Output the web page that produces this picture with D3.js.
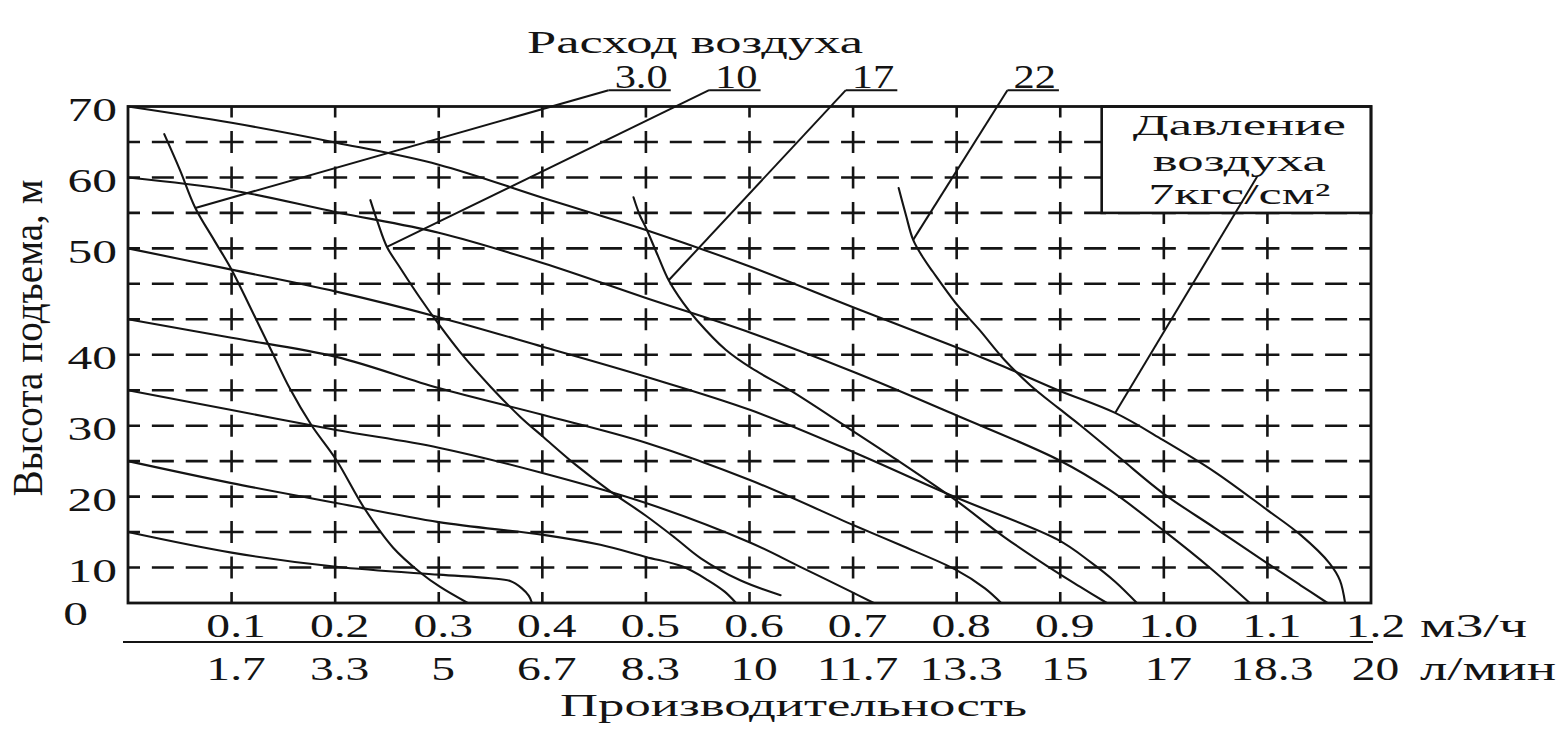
<!DOCTYPE html>
<html><head><meta charset="utf-8">
<script src="https://cdn.jsdelivr.net/npm/d3@7"></script>
<style>
html,body{margin:0;padding:0;background:#fff;}
svg{display:block;}
text{font-family:"Liberation Serif","Times New Roman",serif;fill:#141414;}
</style>
</head><body>
<svg id="chart" width="1568" height="738"></svg>
<script>
// ---------- DATA ----------
// Производительность, м3/ч — tick values and labels (two unit rows)
const qTicks = [0.1,0.2,0.3,0.4,0.5,0.6,0.7,0.8,0.9,1.0,1.1,1.2];
const qLabelsM3h = ["0.1","0.2","0.3","0.4","0.5","0.6","0.7","0.8","0.9","1.0","1.1","1.2"];
const qLabelsLmin = ["1.7","3.3","5","6.7","8.3","10","11.7","13.3","15","17","18.3","20"];
// Высота подъема, м — label values as printed on the original axis
const hTickValues = [70,60,50,35,25,15,5];
const hTickLabels = ["70","60","50","40","30","20","10"];
const hZeroLabel = "0";

// constant air-pressure curves [Q m3/h, H m]
const pressure7 = [[0,70],[0.100,67.7],[0.201,64.9],[0.300,61.8],[0.401,57.1],[0.500,52.6],[0.601,47.4],[0.700,41.7],[0.799,36.1],[0.846,33.3],[0.898,30.0],[0.953,26.8],[0.999,23.0],[1.049,18.5],[1.100,13.1],[1.132,9.6],[1.160,5.6],[1.170,3.2],[1.175,0]];
const pressure6 = [[0,60],[0.100,58.2],[0.201,55.1],[0.300,52.2],[0.401,47.9],[0.500,43.0],[0.601,38.1],[0.700,32.6],[0.799,26.5],[0.898,20.2],[0.948,15.9],[0.999,10.3],[1.045,4.9],[1.083,0]];
const pressure5 = [[0,50],[0.100,47.0],[0.201,43.9],[0.300,40.3],[0.401,36.1],[0.500,31.9],[0.601,27.2],[0.700,21.3],[0.799,14.9],[0.898,8.9],[0.929,5.8],[0.953,3.0],[0.974,0]];
const pressure4 = [[0,40],[0.100,37.4],[0.201,34.7],[0.300,30.3],[0.401,26.5],[0.500,22.6],[0.601,17.3],[0.700,11.0],[0.745,8.2],[0.799,4.7],[0.827,2.1],[0.843,0]];
const pressure3 = [[0,30],[0.100,27.2],[0.201,24.4],[0.300,21.9],[0.401,18.3],[0.500,14.1],[0.601,8.5],[0.649,5.1],[0.698,1.6],[0.720,0]];
const pressure2 = [[0,20],[0.100,16.9],[0.201,14.1],[0.300,11.4],[0.401,9.6],[0.456,8.2],[0.500,6.5],[0.536,5.1],[0.560,3.2],[0.576,1.6],[0.587,0]];
const pressure1 = [[0,10],[0.100,7.1],[0.201,5.1],[0.300,4.0],[0.350,3.5],[0.369,3.1],[0.380,2.1],[0.387,1.0],[0.390,0]];

// constant air-consumption curves [Q m3/h, H m]
const air3  = [[0.035,66.1],[0.050,61.1],[0.065,55.7],[0.083,51.2],[0.100,47.0],[0.118,41.7],[0.138,35.7],[0.156,30.3],[0.177,25.1],[0.201,20.2],[0.228,13.4],[0.256,7.8],[0.283,4.2],[0.301,2.3],[0.328,0]];
const air10 = [[0.234,56.8],[0.241,53.7],[0.250,50.2],[0.263,47.2],[0.282,43.0],[0.301,39.1],[0.321,35.3],[0.350,30.5],[0.379,26.2],[0.401,23.4],[0.432,19.5],[0.466,15.7],[0.500,12.3],[0.528,9.2],[0.553,6.3],[0.591,3.2],[0.630,1.1]];
const air17 = [[0.488,57.2],[0.494,54.7],[0.500,52.9],[0.512,48.8],[0.522,45.5],[0.536,42.3],[0.549,39.9],[0.577,35.7],[0.602,33.1],[0.639,30.0],[0.694,24.8],[0.742,20.2],[0.799,14.5],[0.846,9.3],[0.898,4.2],[0.919,2.3],[0.945,0]];
const air22 = [[0.744,58.5],[0.751,54.7],[0.758,51.2],[0.768,48.6],[0.777,46.7],[0.799,42.3],[0.822,38.5],[0.846,34.3],[0.871,30.7],[0.898,27.5],[0.919,25.1],[0.958,20.4],[0.999,15.5],[1.049,10.6],[1.100,5.6],[1.132,2.5],[1.158,0]];

const pressureSeries = [pressure7,pressure6,pressure5,pressure4,pressure3,pressure2,pressure1];
const airSeries = [air3,air10,air17,air22];
const airLabels = ["3.0","10","17","22"];
const airLeaderPointIndex = [2,2,4,2];
const airLeaderTop = [[0.464,72.3],[0.561,72.3],[0.693,72.3],[0.849,72.3]];
const pressureLeaderPointIndex = 11;
const pressureLeaderTop = [1.090,60.1];
const pressureBox = {q0:0.94,q1:1.2,h0:55,h1:70};
const pressureBoxLines = ["Давление","воздуха","7кгс/см²"];

// ---------- CHART ----------
const svg = d3.select("#chart");
const ink = "#141414";
const x = d3.scaleLinear().domain([0,1.2]).range([128,1371]);
const y = d3.scaleLinear().domain([0,70]).range([603,106.5]);

// grid (dashed, drawn cell by cell so dashes cross at the intersections)
const grid = svg.append("g").attr("stroke",ink).attr("stroke-width",2.6).attr("fill","none");
const gridQ = d3.range(1,12).map(i=>i/10);
const gridH = d3.range(1,14).map(i=>i*5);
const cellsQ = d3.range(0,12).map(i=>[i/10,(i+1)/10]);
const cellsH = d3.range(0,14).map(i=>[i*5,(i+1)*5]);
gridH.forEach(h=>cellsQ.forEach(([a,b])=>{
  grid.append("line").attr("x1",x(a)).attr("x2",x(b)).attr("y1",y(h)).attr("y2",y(h))
    .attr("stroke-dasharray","22 11.86").attr("stroke-dashoffset",10);
}));
gridQ.forEach(q=>cellsH.forEach(([a,b])=>{
  grid.append("line").attr("x1",x(q)).attr("x2",x(q)).attr("y1",y(b)).attr("y2",y(a))
    .attr("stroke-dasharray","22 13.46").attr("stroke-dashoffset",11);
}));

// pressure box (covers grid)
svg.append("rect")
  .attr("x",x(pressureBox.q0)).attr("y",y(pressureBox.h1))
  .attr("width",x(pressureBox.q1)-x(pressureBox.q0)).attr("height",y(pressureBox.h0)-y(pressureBox.h1))
  .attr("fill","#fff").attr("stroke",ink).attr("stroke-width",2.6);
const boxCx = (x(pressureBox.q0)+x(pressureBox.q1))/2 + 3;
const boxLens = [213,173,182];
const boxBase = [y(pressureBox.h1)+28.5, y(pressureBox.h1)+64.5, y(pressureBox.h1)+97.5];
pressureBoxLines.forEach((t,i)=>{
  svg.append("text").attr("x",boxCx-boxLens[i]/2).attr("y",boxBase[i])
    .attr("font-size",30).attr("textLength",boxLens[i]).attr("lengthAdjust","spacingAndGlyphs")
    .text(t);
});

// frame
svg.append("rect").attr("x",x(0)).attr("y",y(70)).attr("width",x(1.2)-x(0)).attr("height",y(0)-y(70))
  .attr("fill","none").attr("stroke",ink).attr("stroke-width",2.8);

// curves
const line = d3.line().x(d=>x(d[0])).y(d=>y(d[1])).curve(d3.curveCatmullRom.alpha(0.5));
const curves = svg.append("g").attr("fill","none").attr("stroke",ink).attr("stroke-width",2.1)
  .attr("stroke-linejoin","round").attr("stroke-linecap","round");
pressureSeries.forEach(s=>curves.append("path").attr("d",line(s)));
airSeries.forEach(s=>curves.append("path").attr("d",line(s)));

// leaders + air consumption labels
const leaders = svg.append("g").attr("stroke",ink).attr("stroke-width",2).attr("fill","none");
airSeries.forEach((s,i)=>{
  const p = s[airLeaderPointIndex[i]];
  const t = airLeaderTop[i];
  leaders.append("line").attr("x1",x(p[0])).attr("y1",y(p[1])).attr("x2",x(t[0])).attr("y2",y(t[1]));
  const tx = svg.append("text").attr("font-size",34)
    .attr("transform",`translate(${x(t[0])+6},${y(t[1])-2}) scale(1.25,1)`).text(airLabels[i]);
  const w = tx.node().getBBox().width*1.25;
  leaders.append("line").attr("x1",x(t[0])).attr("y1",y(t[1])).attr("x2",x(t[0])+6+w+3).attr("y2",y(t[1]));
});
{
  const p = pressure7[pressureLeaderPointIndex];
  leaders.append("line").attr("x1",x(p[0])).attr("y1",y(p[1]))
    .attr("x2",x(pressureLeaderTop[0])).attr("y2",y(pressureLeaderTop[1]));
}

// title "Расход воздуха"
svg.append("text").attr("x",527).attr("y",53).attr("font-size",32)
  .attr("textLength",336).attr("lengthAdjust","spacingAndGlyphs").text("Расход воздуха");

// y axis labels
const yAxis = svg.append("g").attr("transform",`translate(${x(0)},0)`)
  .call(d3.axisLeft(y).tickValues(hTickValues).tickFormat((d,i)=>hTickLabels[i]).tickSize(0));
yAxis.select(".domain").remove();
yAxis.selectAll("text").attr("x",0).attr("dy",null).attr("font-size",33)
  .attr("font-family",null).attr("fill",ink).attr("text-anchor","end")
  .attr("transform","translate(-11,14) scale(1.5,1)");
svg.append("text").attr("font-size",33).attr("text-anchor","end")
  .attr("transform",`translate(88,${y(0)+22}) scale(1.5,1)`).text(hZeroLabel);

// y title
svg.append("text").attr("font-size",32).attr("x",-158.5).attr("y",0)
  .attr("textLength",317).attr("lengthAdjust","spacingAndGlyphs")
  .attr("transform","translate(42,338) scale(1.3,1) rotate(-90)")
  .text("Высота подъема, м");

// x axis labels: row 1 (м3/ч) and row 2 (л/мин)
function xRow(labels, base){
  const ax = svg.append("g").call(d3.axisBottom(x).tickValues(qTicks)
    .tickFormat((d,i)=>labels[i]).tickSize(0));
  ax.select(".domain").remove();
  ax.selectAll("text").attr("y",0).attr("dy",null).attr("font-size",34)
    .attr("font-family",null).attr("fill",ink).attr("text-anchor","middle")
    .attr("transform",`translate(4,${base}) scale(1.4,1)`);
}
xRow(qLabelsM3h, 637);
xRow(qLabelsLmin, 680);
svg.append("line").attr("x1",x(0)-5).attr("x2",x(1.2)+2).attr("y1",642).attr("y2",642)
  .attr("stroke",ink).attr("stroke-width",2);
svg.append("text").attr("x",1420).attr("y",637).attr("font-size",34)
  .attr("textLength",107).attr("lengthAdjust","spacingAndGlyphs").text("м3/ч");
svg.append("text").attr("x",1420).attr("y",680).attr("font-size",34)
  .attr("textLength",136).attr("lengthAdjust","spacingAndGlyphs").text("л/мин");
svg.append("text").attr("x",560).attr("y",716).attr("font-size",32)
  .attr("textLength",467).attr("lengthAdjust","spacingAndGlyphs").text("Производительность");
</script>
</body></html>
